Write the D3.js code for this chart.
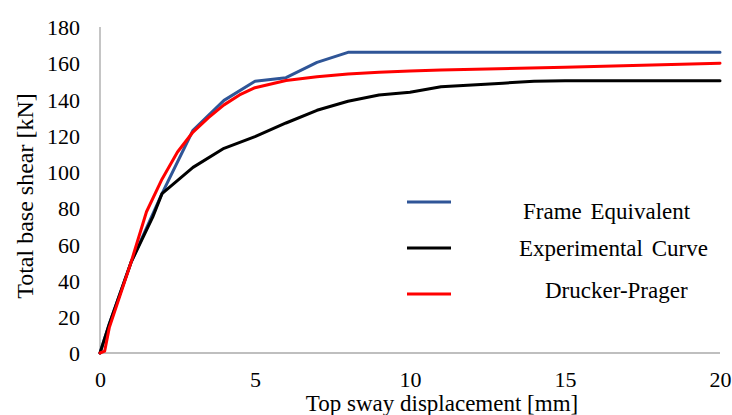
<!DOCTYPE html>
<html>
<head>
<meta charset="utf-8">
<script src="https://cdn.jsdelivr.net/npm/d3@7"></script>
<style>
  html, body { margin: 0; padding: 0; background: #fff; }
  svg { display: block; }
  svg text { font-family: "Liberation Serif", "Times New Roman", serif !important; fill: #000; }
</style>
</head>
<body>
<svg id="chart" width="732" height="415"></svg>
<script>
// ---- data ----
const xTicks = [0, 5, 10, 15, 20];
const yTicks = [0, 20, 40, 60, 80, 100, 120, 140, 160, 180];

const seriesNames = ["Frame Equivalent", "Experimental Curve", "Drucker-Prager"];
const seriesColors = ["#2f5597", "#000000", "#ff0000"];

const dispFrame  = [0, 0.3, 1, 2, 3, 4, 5, 6, 7, 8, 20];
const shearFrame = [0, 16, 50, 88, 123, 139.5, 150, 152, 160.5, 166, 166];

const dispExp  = [0, 0.3, 1, 1.7, 2, 3, 4, 5, 6, 7, 8, 9, 10, 11, 12, 13, 14, 15, 20];
const shearExp = [0, 16, 50, 75, 88, 102.5, 113, 119.5, 127, 134, 139, 142.5, 144, 147, 148, 149, 150, 150.3, 150.3];

const dispDP  = [0, 0.15, 0.3, 1, 1.5, 2, 2.5, 3, 3.5, 4, 4.5, 5, 6, 7, 8, 9, 10, 11, 15, 20];
const shearDP = [0, 1, 14, 50, 78, 96, 111, 122, 130, 137, 142.5, 146.5, 150.5, 152.5, 154, 155, 155.7, 156.2, 157.8, 160];

// ---- chart ----
const FONT = '"Liberation Serif", "Times New Roman", serif';
const svg = d3.select("#chart");
const x = d3.scaleLinear().domain([0, 20]).range([100, 720]);
const y = d3.scaleLinear().domain([0, 180]).range([353, 27]);

// axes lines
svg.append("line").attr("x1", x(0)).attr("x2", x(20)).attr("y1", y(0)).attr("y2", y(0))
  .attr("stroke", "#bfbfbf").attr("stroke-width", 1.8);
svg.append("line").attr("x1", x(0)).attr("x2", x(0)).attr("y1", y(0)).attr("y2", y(180))
  .attr("stroke", "#bfbfbf").attr("stroke-width", 1.8);

// x tick labels via axis
const xAxis = svg.append("g").attr("transform", `translate(0,${y(0)})`)
  .call(d3.axisBottom(x).tickValues(xTicks).tickSize(0).tickPadding(0).tickFormat(d3.format("d")));
xAxis.attr("font-family", FONT).attr("font-size", 22);
xAxis.select(".domain").remove();
xAxis.selectAll("text").style("font-family", FONT).style("font-size", "22px")
  .attr("dy", null).attr("y", 34);

// y tick labels via axis
const yAxis = svg.append("g").attr("transform", `translate(${x(0)},0)`)
  .call(d3.axisLeft(y).tickValues(yTicks).tickSize(0).tickPadding(20).tickFormat(d3.format("d")));
yAxis.attr("font-family", FONT).attr("font-size", 22);
yAxis.select(".domain").remove();
yAxis.selectAll("text").style("font-family", FONT).style("font-size", "22px")
  .attr("dy", "0.35em");

// axis titles
svg.append("text").attr("x", 442).attr("y", 411).attr("text-anchor", "middle")
  .style("font-family", FONT).style("font-size", "23px").text("Top sway displacement [mm]");
svg.append("text").attr("transform", "translate(33,196) rotate(-90)").attr("text-anchor", "middle")
  .style("font-family", FONT).style("font-size", "24px").text("Total base shear [kN]");

// lines
const series = [
  dispFrame.map((d, i) => [d, shearFrame[i]]),
  dispExp.map((d, i) => [d, shearExp[i]]),
  dispDP.map((d, i) => [d, shearDP[i]])
];
const line = d3.line().x(d => x(d[0])).y(d => y(d[1])).curve(d3.curveLinear);
[0, 1, 2].forEach(i => {
  svg.append("path").datum(series[i]).attr("d", line)
    .attr("fill", "none").attr("stroke", seriesColors[i])
    .attr("stroke-width", 3).attr("stroke-linejoin", "round").attr("stroke-linecap", "round");
});

// legend
const legLineY = [202, 248, 294];
const legTextX = [523, 519, 545];
const legTextY = [219, 256, 298];
seriesNames.forEach((name, i) => {
  svg.append("line").attr("x1", 407).attr("x2", 451).attr("y1", legLineY[i]).attr("y2", legLineY[i])
    .attr("stroke", seriesColors[i]).attr("stroke-width", 3);
  svg.append("text").attr("x", legTextX[i]).attr("y", legTextY[i])
    .style("font-family", FONT).style("font-size", "23px")
    .attr("word-spacing", 3).text(name);
});
</script>
</body>
</html>
